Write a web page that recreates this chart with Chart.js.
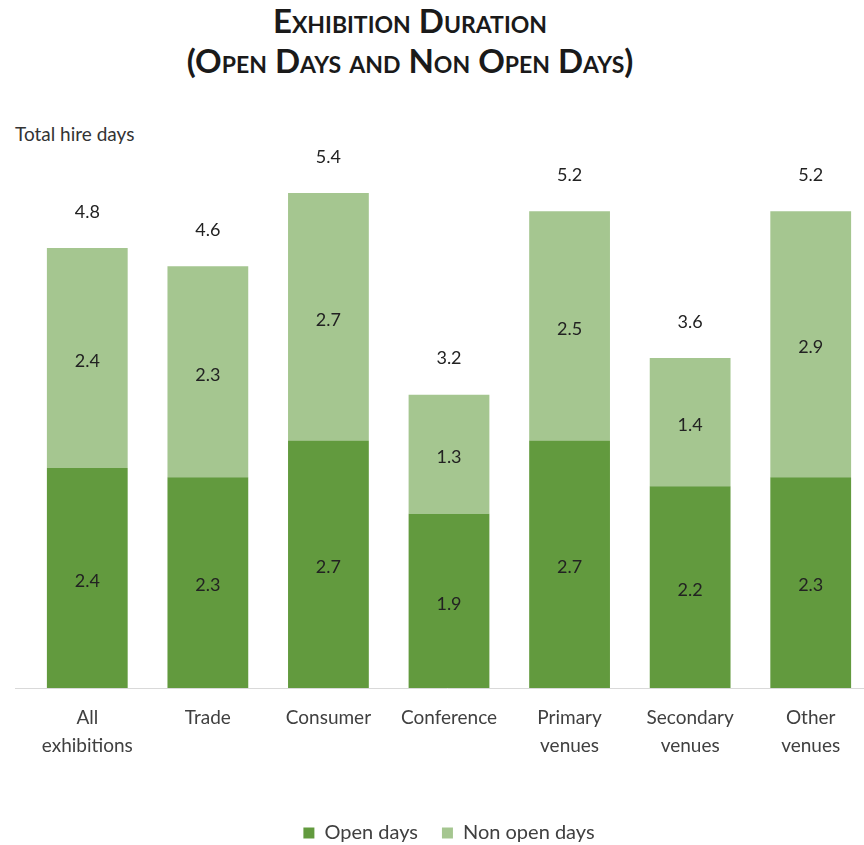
<!DOCTYPE html>
<html>
<head>
<meta charset="utf-8">
<script src="https://cdn.jsdelivr.net/npm/chart.js@4.4.1/dist/chart.umd.min.js"></script>
<style>
  html, body { margin: 0; padding: 0; background: #fff; }
  body { width: 864px; height: 845px; overflow: hidden; position: relative; }
  #title {
    position: absolute; left: 0; width: 820px; top: 0px;
    text-align: center; font-family: Lato, sans-serif; font-weight: bold;
    font-variant: small-caps; font-size: 33px; line-height: 40px; color: #1a1a1a;
  }
  #ylabel {
    position: absolute; left: 15px; top: 122px;
    font-family: Lato, sans-serif; font-size: 19px; color: #333;
  }
  #wrap { position: absolute; left: 0; top: 0; width: 880px; height: 845px; }
</style>
</head>
<body>
<div id="title">Exhibition Duration<br>(Open Days and Non Open Days)</div>
<div id="ylabel">Total hire days</div>
<div id="wrap"><canvas id="chart" width="880" height="845"></canvas></div>
<script>
// --- data ---
const categories = [['All', 'exhibitions'], 'Trade', 'Consumer', 'Conference', ['Primary', 'venues'], ['Secondary', 'venues'], ['Other', 'venues']];
const openDays = [2.4, 2.3, 2.7, 1.9, 2.7, 2.2, 2.3];
const nonOpenDays = [2.4, 2.3, 2.7, 1.3, 2.5, 1.4, 2.9];
const totals = [4.8, 4.6, 5.4, 3.2, 5.2, 3.6, 5.2];

const BASELINE = 688;
const BOTTOM_PAD = -8;
const labelFont = '18px Lato, sans-serif';

// axis line, segment labels in the middle of each bar piece, totals above the stack
const barLabels = {
    id: 'barLabels',
    afterDatasetsDraw(chart) {
        const ctx = chart.ctx;
        const y = chart.scales.y;
        ctx.save();
        ctx.strokeStyle = '#d9d9d9';
        ctx.lineWidth = 1;
        ctx.beginPath();
        ctx.moveTo(15, Math.round(y.getPixelForValue(0)) + 0.5);
        ctx.lineTo(880, Math.round(y.getPixelForValue(0)) + 0.5);
        ctx.stroke();

        ctx.font = labelFont;
        ctx.fillStyle = '#222';
        ctx.textAlign = 'center';
        ctx.textBaseline = 'middle';
        chart.data.datasets.forEach((ds, i) => {
            chart.getDatasetMeta(i).data.forEach((bar, j) => {
                const mid = (bar.y + bar.base) / 2;
                ctx.fillText(ds.data[j].toFixed(1), bar.x, mid + 3);
            });
        });
        const top = chart.getDatasetMeta(1).data;
        totals.forEach((t, j) => {
            ctx.fillText(t.toFixed(1), top[j].x, y.getPixelForValue(t) - 36);
        });
        ctx.restore();
    }
};

new Chart(document.getElementById('chart'), {
    type: 'bar',
    data: {
        labels: categories,
        datasets: [
            { label: 'Open days', data: openDays, backgroundColor: '#629a3e' },
            { label: 'Non open days', data: nonOpenDays, backgroundColor: '#a5c690' }
        ]
    },
    options: {
        responsive: false,
        animation: false,
        layout: { padding: { left: 27, right: 9, top: 138, bottom: BOTTOM_PAD } },
        datasets: { bar: { categoryPercentage: 1, barPercentage: 0.67 } },
        scales: {
            x: {
                stacked: true,
                grid: { display: false },
                border: { display: false },
                ticks: {
                    color: '#404040', font: { size: 19, family: 'Lato, sans-serif', lineHeight: 1.47 },
                    padding: 8, maxRotation: 0, autoSkip: false
                },
                afterFit(scale) {
                    scale.height = scale.chart.height - scale.chart.legend.height - BASELINE - BOTTOM_PAD;
                }
            },
            y: { stacked: true, display: false, min: 0, max: 6 }
        },
        plugins: {
            legend: {
                position: 'bottom',
                labels: {
                    color: '#404040', font: { size: 20, family: 'Lato, sans-serif' },
                    boxWidth: 11, boxHeight: 11, padding: 24
                }
            },
            tooltip: { enabled: false }
        }
    },
    plugins: [barLabels]
});
</script>
</body>
</html>
